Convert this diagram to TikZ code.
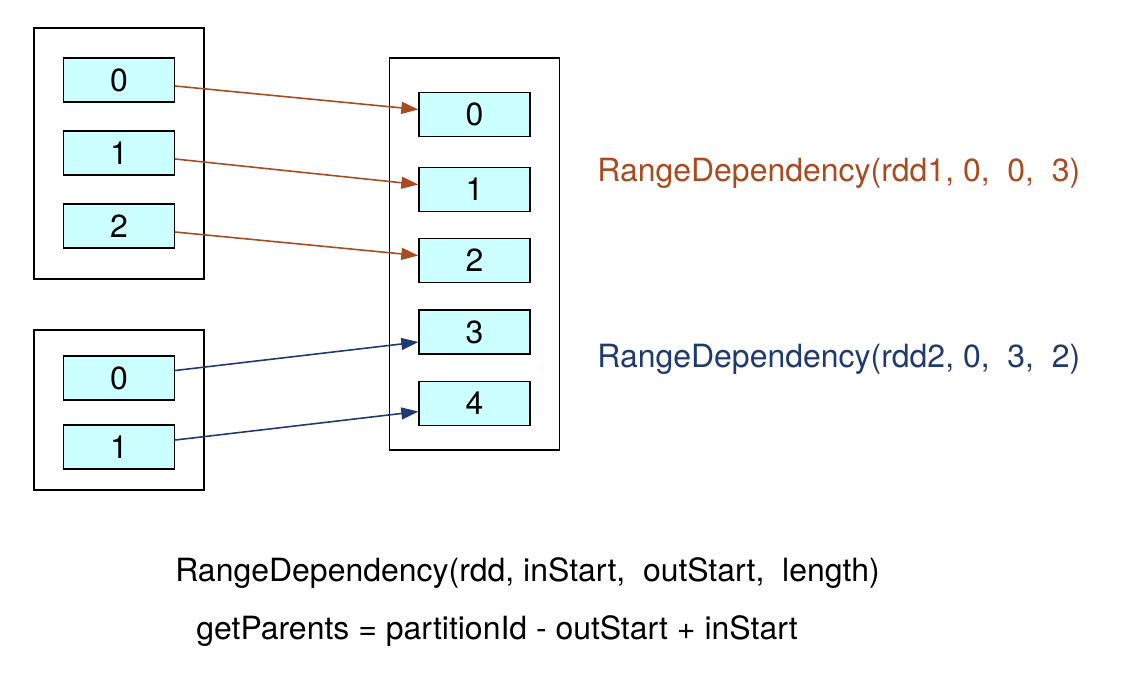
\documentclass[tikz,border=0pt]{standalone}
\usepackage{fontspec}
\setmainfont{TeX Gyre Heros}
\usepackage{tikz}
\usetikzlibrary{positioning,arrows.meta}

\definecolor{rustbrown}{RGB}{169,75,32}
\definecolor{navyblue}{RGB}{31,58,110}
\definecolor{cellcyan}{RGB}{204,255,255}

\begin{document}
\begin{tikzpicture}[x=0.02cm, y=-0.02cm, >={Triangle[length=0.34cm,width=0.24cm]},
    font=\fontsize{18.2}{22}\selectfont,
    part/.style={draw, line width=1.1pt, minimum width=3.4cm, inner sep=0pt},
    cell/.style={draw, line width=0.8pt, fill=cellcyan, minimum width=2.22cm, minimum height=0.88cm, inner sep=0pt},
    link/.style={->, line width=0.9pt},
    label/.style={anchor=west, inner sep=0pt}]
    \useasboundingbox (0,0) rectangle (1128,674);

    % parent RDDs and child RDD
    \node[part, minimum height=5.02cm] (rdd1) at (119,153.5) {};
    \node[part, minimum height=3.2cm] (rdd2) at (119,410) {};
    \node[part, minimum height=7.84cm] (out) at (474.5,254) {};

    \node[cell] (a0) at (119,80) {0};
    \node[cell] (a1) at (119,153) {1};
    \node[cell] (a2) at (119,226) {2};

    \node[cell] (b0) at (119,378) {0};
    \node[cell] (b1) at (119,447) {1};

    \node[cell] (c0) at (474.5,114.5) {0};
    \node[cell] (c1) at (474.5,189.5) {1};
    \node[cell] (c2) at (474.5,260.5) {2};
    \node[cell] (c3) at (474.5,332) {3};
    \node[cell] (c4) at (474.5,403.5) {4};

    \draw[link, rustbrown] ([yshift=-0.12cm]a0.east) -- ([yshift=0.1cm]c0.west);
    \draw[link, rustbrown] ([yshift=-0.12cm]a1.east) -- ([yshift=0.1cm]c1.west);
    \draw[link, rustbrown] ([yshift=-0.12cm]a2.east) -- ([yshift=0.1cm]c2.west);
    \draw[link, navyblue] ([yshift=0.15cm]b0.east) -- ([yshift=-0.2cm]c3.west);
    \draw[link, navyblue] ([yshift=0.14cm]b1.east) -- ([yshift=-0.16cm]c4.west);

    \node[label, text=rustbrown] (dep1) at (597,173) {RangeDependency(rdd1, 0,\ \ 0,\ \ 3)};
    \node[label, text=navyblue] (dep2) at (597,359) {RangeDependency(rdd2, 0,\ \ 3,\ \ 2)};

    \node[label] (sig) at (175,573) {RangeDependency(rdd, inStart,\ \ outStart,\ \ length)};
    \node[label] (rule) at (196,631) {getParents\ = partitionId\ - outStart\ + inStart};
\end{tikzpicture}
\end{document}
